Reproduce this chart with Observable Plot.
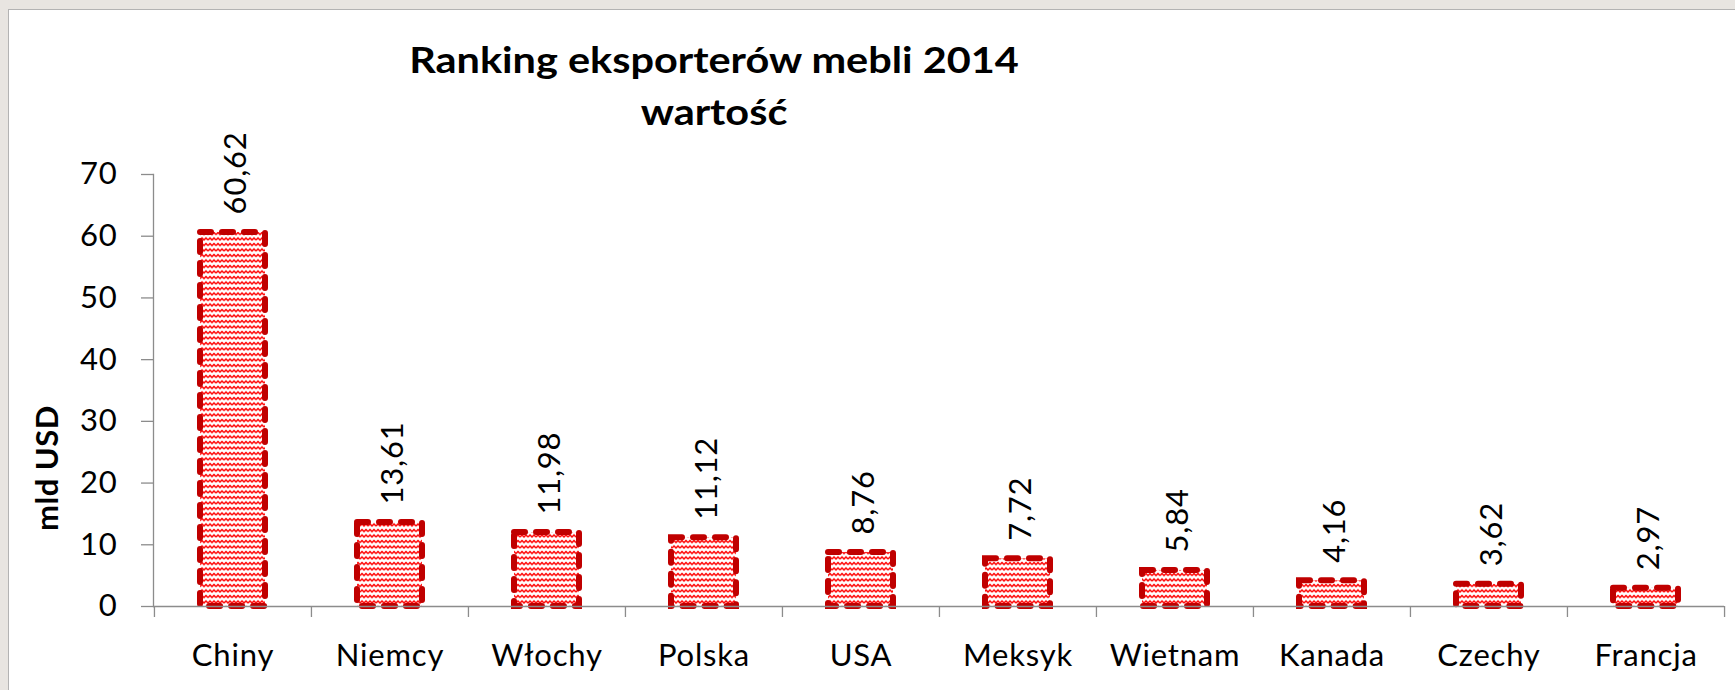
<!DOCTYPE html>
<html>
<head>
<meta charset="utf-8">
<script src="https://cdn.jsdelivr.net/npm/d3@7"></script>
<script src="https://cdn.jsdelivr.net/npm/@observablehq/plot@0.6"></script>
<style>
  html, body { margin: 0; padding: 0; }
  body { background: #e8e5e1; width: 1735px; height: 690px; overflow: hidden; position: relative; font-family: Lato, "Open Sans", sans-serif; }
  #panel { position: absolute; left: 8px; top: 9px; right: 0; bottom: 0; background: #fff; border-left: 1px solid #b3b3b3; border-top: 1px solid #b3b3b3; }
  #chart { position: absolute; left: 0; top: 0; }
  #chart svg text { letter-spacing: 0.8px; }
  #title { position: absolute; left: 0; top: 33px; width: 1428px; text-align: center; font: bold 37px/52px Lato, sans-serif; color: #000; transform: scaleX(1.12); transform-origin: 714px 0; }
  #ylabel { position: absolute; left: 46px; top: 468px; transform: translate(-50%, -50%) rotate(-90deg); font: bold 31px/1 Lato, sans-serif; color: #000; white-space: nowrap; letter-spacing: 0.5px; }
</style>
</head>
<body>
<div id="panel"></div>
<div id="chart"></div>
<div id="title">Ranking eksporterów mebli 2014<br>wartość</div>
<div id="ylabel"></div>
<script>
const categories = ["Chiny", "Niemcy", "Włochy", "Polska", "USA", "Meksyk", "Wietnam", "Kanada", "Czechy", "Francja"];
const values = [60.62, 13.61, 11.98, 11.12, 8.76, 7.72, 5.84, 4.16, 3.62, 2.97];
const yTicks = [0, 10, 20, 30, 40, 50, 60, 70];
const yLabel = "mld USD";

const data = categories.map((c, i) => ({ country: c, value: values[i] }));
const fmt = v => v.toFixed(2).replace(".", ",");

const W = 1735, H = 690;
const mL = 153, mR = 11, mT = 174, mB = 84;
const step = (W - mL - mR) / categories.length;
const axisGray = "#8c8c8c";

const plot = Plot.plot({
  width: W,
  height: H,
  marginLeft: mL,
  marginRight: mR,
  marginTop: mT,
  marginBottom: mB,
  style: { background: "transparent", fontFamily: "Lato, sans-serif", fontSize: "31px", color: "#000", overflow: "visible" },
  x: { type: "band", domain: categories, padding: 0, label: null },
  y: { domain: [0, 70], label: null },
  marks: [
    Plot.frame({ anchor: "left", stroke: axisGray, strokeWidth: 1.3 }),
    Plot.barY(data, {
      x: "country", y: "value",
      fill: "url(#wave)",
      stroke: "#c00000",
      strokeWidth: 6,
      strokeDasharray: "11,11",
      strokeLinecap: "round",
      insetLeft: 46, insetRight: 46
    }),
    Plot.ruleY([0], { stroke: axisGray, strokeWidth: 1.3 }),
    Plot.ruleX(categories, { x: d => d, dx: -step / 2, y1: () => 0, y2: () => 0, insetBottom: -11, stroke: axisGray, strokeWidth: 1.3 }),
    Plot.ruleX([categories[categories.length - 1]], { x: d => d, dx: step / 2, y1: () => 0, y2: () => 0, insetBottom: -11, stroke: axisGray, strokeWidth: 1.3 }),
    Plot.axisY({ ticks: yTicks, tickSize: 12, tickPadding: 24, stroke: axisGray, strokeWidth: 1.3, fill: "#000", tickFormat: d => String(d), label: null }),
    Plot.axisX({ tickSize: 0, tickPadding: 37, fill: "#000", label: null }),
    Plot.text(data, {
      x: "country", y: "value",
      text: d => fmt(d.value),
      rotate: -90,
      textAnchor: "start",
      lineAnchor: "middle",
      dy: -18, dx: 3,
      fill: "#000",
      fontSize: 31
    })
  ]
});

document.getElementById("ylabel").textContent = yLabel;

// wave pattern used as bar fill
const ns = "http://www.w3.org/2000/svg";
const defs = document.createElementNS(ns, "defs");
const pat = document.createElementNS(ns, "pattern");
pat.setAttribute("id", "wave");
pat.setAttribute("patternUnits", "userSpaceOnUse");
pat.setAttribute("width", "8");
pat.setAttribute("height", "5.5");
const bg = document.createElementNS(ns, "rect");
bg.setAttribute("width", "8"); bg.setAttribute("height", "5.5"); bg.setAttribute("fill", "#ffffff");
const path = document.createElementNS(ns, "path");
path.setAttribute("d", "M0,3.6 L2,1.6 L4,3.6 L6,1.6 L8,3.6");
path.setAttribute("fill", "none");
path.setAttribute("stroke", "#ff0000");
path.setAttribute("stroke-width", "1.5");
pat.appendChild(bg); pat.appendChild(path);
defs.appendChild(pat);
plot.insertBefore(defs, plot.firstChild);

document.getElementById("chart").appendChild(plot);
</script>
</body>
</html>
